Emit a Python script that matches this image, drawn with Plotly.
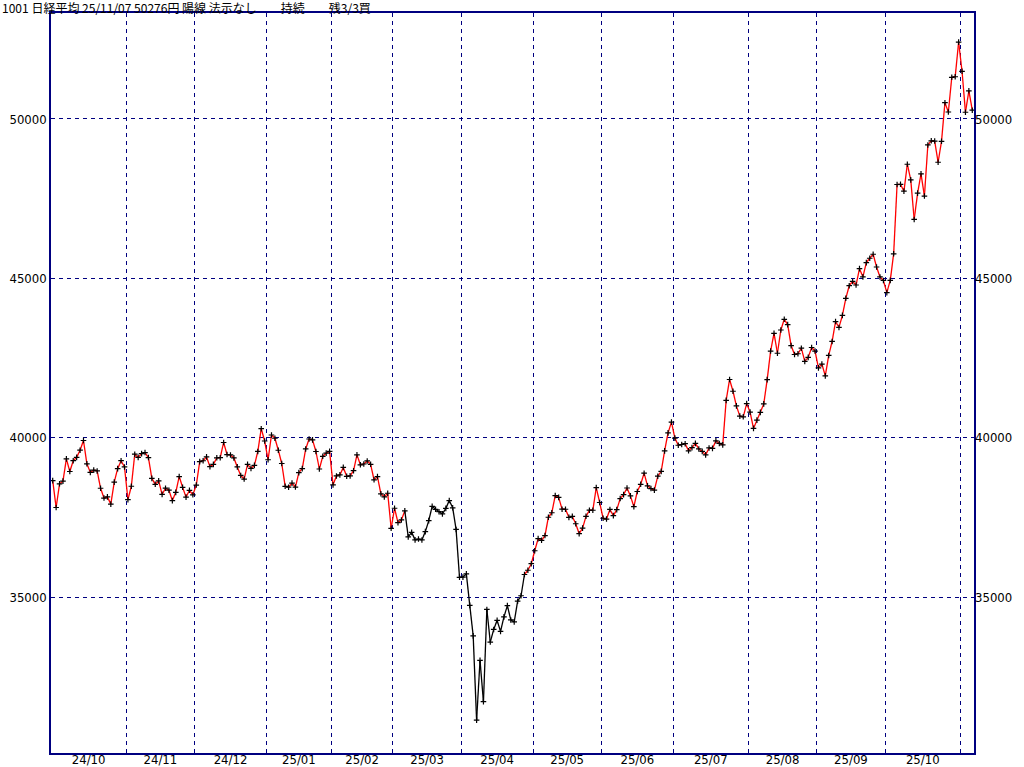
import plotly.graph_objects as go

# ---- data ----
month_labels = ["24/10", "24/11", "24/12", "25/01", "25/02", "25/03", "25/04",
                "25/05", "25/06", "25/07", "25/08", "25/09", "25/10", ""]
days_per_month = [22, 20, 21, 19, 18, 20, 21, 20, 21, 22, 20, 20, 22, 4]

closes = [
    # 24/10
    38652, 37809, 38552, 38636, 39333, 38938, 39277, 39381, 39606, 39911, 39180,
    38911, 38982, 38955, 38412, 38105, 38143, 37914, 38606, 39028, 39277, 39081,
    # 24/11
    38054, 38475, 39481, 39381, 39500, 39533, 39376, 38722, 38536, 38643, 38221,
    38414, 38352, 38026, 38284, 38780, 38442, 38135, 38349, 38208,
    # 24/12
    38513, 39249, 39276, 39396, 39091, 39161, 39368, 39372, 39849, 39470, 39457,
    39365, 39082, 38814, 38702, 39161, 39037, 39130, 39568, 40281, 39895,
    # 25/01
    39307, 40083, 39981, 39605, 39190, 38474, 38445, 38573, 38451, 38903, 39028,
    39646, 39959, 39932, 39566, 39017, 39415, 39514, 39572,
    # 25/02
    38520, 38798, 38831, 39067, 38787, 38801, 38964, 39461, 39149, 39174, 39270,
    39165, 38678, 38777, 38238, 38142, 38256, 37156,
    # 25/03
    37785, 37331, 37418, 37705, 36887, 37028, 36793, 36819, 36790, 37053, 37397,
    37845, 37752, 37677, 37608, 37781, 38027, 37800, 37120, 35618,
    # 25/04
    35624, 35726, 34736, 33781, 31137, 33013, 31714, 34609, 33586, 33982, 34268,
    33920, 34378, 34730, 34280, 34221, 34869, 35039, 35706, 35840, 36045,
    # 25/05
    36452, 36831, 36780, 36929, 37503, 37644, 38183, 38128, 37756, 37754, 37499,
    37529, 37299, 36986, 37160, 37532, 37724, 37722, 38433, 37965,
    # 25/06
    37471, 37447, 37747, 37554, 37742, 38089, 38212, 38421, 38173, 37834, 38311,
    38537, 38885, 38488, 38403, 38354, 38791, 38942, 39585, 40151, 40487,
    # 25/07
    39986, 39762, 39786, 39811, 39588, 39689, 39821, 39646, 39570, 39460, 39678,
    39663, 39901, 39819, 39775, 41171, 41826, 41456, 40998, 40675, 40655, 41070,
    # 25/08
    40800, 40291, 40550, 40795, 41059, 41820, 42718, 43275, 42649, 43378, 43714,
    43546, 42889, 42610, 42633, 42808, 42394, 42520, 42829, 42718,
    # 25/09
    42189, 42310, 41939, 42580, 43019, 43644, 43459, 43838, 44373, 44768, 44902,
    44790, 45303, 45046, 45494, 45630, 45755, 45355, 45044, 44933,
    # 25/10
    44551, 44937, 45770, 47945, 47951, 47735, 48580, 48089, 46847, 47673, 48278,
    47582, 49186, 49316, 49308, 48642, 49300, 50512, 50219, 51308, 51326, 52411,
    # 25/11
    51497, 50212, 50884, 50276,
]

# signal state per segment start: "red" = hold-long colour, "black" otherwise
black_segment_start = 103   # 25/03/06
black_segment_end = 138     # 25/04/25 (exclusive)

y_ticks = [35000, 40000, 45000, 50000]
title_text = "1001 日経平均 25/11/07 50276円 陽線 法示なし　　持続　　残3/3買"

# ---- derived positions ----
n = len(closes)
xs = list(range(n))
bounds = []
centers = []
acc = 0
for d in days_per_month:
    centers.append(acc + (d - 1) / 2)
    acc += d
    bounds.append(acc - 0.5)
bounds = bounds[:-1]

red_x, red_y, blk_x, blk_y = [], [], [], []
for i in range(n - 1):
    if black_segment_start <= i < black_segment_end:
        blk_x += [xs[i], xs[i + 1], None]
        blk_y += [closes[i], closes[i + 1], None]
    else:
        red_x += [xs[i], xs[i + 1], None]
        red_y += [closes[i], closes[i + 1], None]

NAVY = "#000080"
tick_font = dict(family="Liberation Sans Narrow, DejaVu Sans Condensed, sans-serif",
                 size=13, color="black")

fig = go.Figure()
fig.add_trace(go.Scatter(x=red_x, y=red_y, mode="lines",
                         line=dict(color="#ff0000", width=1.3), hoverinfo="skip"))
fig.add_trace(go.Scatter(x=blk_x, y=blk_y, mode="lines",
                         line=dict(color="#000000", width=1.3), hoverinfo="skip"))
fig.add_trace(go.Scatter(x=xs, y=closes, mode="markers",
                         marker=dict(symbol="cross-thin", size=4,
                                     line=dict(color="black", width=1.2))))
# invisible trace to bind the secondary axes
fig.add_trace(go.Scatter(x=[centers[0]], y=[closes[0]], xaxis="x2", yaxis="y2",
                         mode="markers", marker=dict(opacity=0), hoverinfo="skip"))

xr = [-0.5, n - 0.5]
yr = [30105, 53326]

fig.update_layout(
    width=1024, height=767,
    margin=dict(l=51, r=50, t=13, b=14, autoexpand=False),
    paper_bgcolor="white", plot_bgcolor="white",
    showlegend=False,
    title=dict(text=title_text, x=0.002, xref="container", xanchor="left",
               y=1 - 9 / 767, yref="container", yanchor="middle",
               font=dict(family="Noto Sans CJK JP", size=12, color="black")),
    xaxis=dict(range=xr, tickvals=bounds, showticklabels=False, ticks="",
               showgrid=True, gridcolor=NAVY, gridwidth=1, griddash="4px,4px",
               showline=True, linecolor=NAVY, linewidth=1.5, mirror=True,
               zeroline=False, automargin=False),
    xaxis2=dict(range=xr, overlaying="x", side="bottom", tickvals=centers,
                ticktext=month_labels, showgrid=False, ticks="", showline=False,
                zeroline=False, tickfont=tick_font, automargin=False,
                ticklabelstandoff=-3),
    yaxis=dict(range=yr, tickvals=y_ticks, ticktext=[str(v) for v in y_ticks],
               showgrid=True, gridcolor=NAVY, gridwidth=1, griddash="4px,4px",
               showline=True, linecolor=NAVY, linewidth=1.5, mirror=True,
               zeroline=False, ticks="", tickfont=tick_font, automargin=False),
    yaxis2=dict(range=yr, overlaying="y", side="right", tickvals=y_ticks,
                ticktext=[str(v) for v in y_ticks], showgrid=False, ticks="",
                showline=False, zeroline=False, tickfont=tick_font,
                automargin=False),
)

fig.write_html(
    "out.html",
    config={"displayModeBar": False},
    post_script="document.body.style.margin='0';document.body.style.overflow='hidden';",
)
